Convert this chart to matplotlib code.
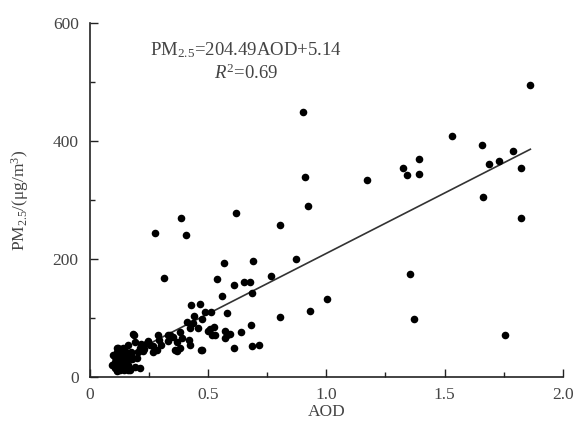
import numpy as np
import matplotlib
matplotlib.use("Agg")
import matplotlib.pyplot as plt

plt.rcParams['font.family'] = ['Liberation Serif', 'DejaVu Serif']
plt.rcParams['mathtext.fontset'] = 'custom'
plt.rcParams['mathtext.rm'] = 'Liberation Serif'
plt.rcParams['mathtext.it'] = 'Liberation Serif:italic'

# AOD vs PM2.5
aod = [1.863, 1.532, 1.659, 1.790, 1.688, 1.729, 1.824, 1.662, 1.822, 1.755,
       0.901, 0.909, 1.170, 1.325, 1.343, 1.392, 1.390, 0.922, 0.803, 0.871,
       1.353, 1.001, 0.932, 0.803, 1.369, 0.617, 0.568, 0.692, 0.536, 0.610,
       0.653, 0.676, 0.765, 0.686, 0.557, 0.488, 0.512, 0.582, 0.681, 0.526,
       0.500, 0.515, 0.571, 0.592, 0.571, 0.641, 0.609, 0.686, 0.715, 0.475,
       0.385, 0.275, 0.407, 0.313, 0.428, 0.465, 0.412, 0.437, 0.474, 0.457,
       0.423, 0.507, 0.529, 0.578, 0.186, 0.331, 0.341, 0.293, 0.367, 0.388,
       0.381, 0.362, 0.420, 0.423, 0.240, 0.282, 0.190, 0.211, 0.225, 0.176,
       0.162, 0.113, 0.254, 0.268, 0.218, 0.247, 0.289, 0.331, 0.381, 0.367,
       0.472, 0.204, 0.127, 0.106, 0.092, 0.106, 0.162, 0.190, 0.141, 0.162,
       0.118, 0.097, 0.127, 0.169, 0.211, 0.155, 0.183, 0.110, 0.120, 0.135,
       0.145, 0.130, 0.150, 0.115, 0.125, 0.140, 0.175, 0.160, 0.105, 0.200,
       0.230, 0.145, 0.135, 0.180, 0.115, 0.150, 0.265, 0.350, 0.440, 0.300]
pm25 = [495, 408, 393, 383, 361, 366, 355, 306, 270, 71,
        450, 339, 334, 355, 342, 370, 344, 290, 257, 200,
        175, 133, 112, 102, 98, 278, 194, 197, 167, 156,
        162, 162, 172, 142, 138, 111, 111, 108, 89, 85,
        78, 72, 78, 73, 66, 76, 50, 53, 55, 46,
        269, 245, 240, 168, 122, 124, 94, 91, 98, 83,
        84, 82, 71, 71, 72, 71, 71, 63, 60, 66,
        49, 46, 63, 54, 58, 46, 60, 49, 45, 43,
        54, 49, 54, 43, 57, 61, 71, 62, 77, 45,
        46, 43, 46, 34, 20, 15, 12, 17, 26, 34,
        49, 37, 12, 12, 15, 29, 73, 28, 22, 35,
        40, 18, 24, 42, 30, 50, 38, 20, 26, 32,
        48, 12, 20, 30, 10, 45, 52, 68, 104, 55]

slope, intercept = 204.49, 5.14

fig = plt.figure(figsize=(5.76, 4.34), dpi=100)
ax = fig.add_axes([0.156, 0.131, 0.821, 0.816])

ax.scatter(aod, pm25, s=30, color='black', zorder=3, linewidths=0)
xl = np.array([min(aod), max(aod)])
ax.plot(xl, slope * xl + intercept, color='#333333', lw=1.2, zorder=2)

ax.set_xlim(0, 2.0)
ax.set_ylim(0, 600)
ax.set_xticks([0, 0.5, 1.0, 1.5, 2.0])
ax.set_xticklabels(['0', '0.5', '1.0', '1.5', '2.0'])
ax.set_xticks([0.25, 0.75, 1.25, 1.75], minor=True)
ax.set_yticks([0, 200, 400, 600])
ax.set_yticks([100, 300, 500], minor=True)
ax.spines['top'].set_visible(False)
ax.spines['right'].set_visible(False)
for s in ['left', 'bottom']:
    ax.spines[s].set_linewidth(1.2)
    ax.spines[s].set_color('#222222')
ax.tick_params(which='both', direction='in', colors='#222222', labelcolor='#444444',
               labelsize=12.5, width=1.0)
ax.tick_params(which='major', length=6)
ax.tick_params(which='minor', length=3.5)
ax.tick_params(axis='x', pad=7)
ax.tick_params(axis='y', pad=8)

ax.set_xlabel('AOD', fontsize=12.5, color='#444444', labelpad=1)
ax.set_ylabel(r'PM$_{2.5}$/($\mathrm{\mu}$g/m$^3$)', fontsize=12.5, color='#444444', labelpad=16)

ax.text(0.33, 0.923, r'PM$_{2.5}$=204.49AOD+5.14', transform=ax.transAxes,
        ha='center', va='center', fontsize=13.5, color='#444444')
ax.text(0.33, 0.858, r'$R^2$=0.69', transform=ax.transAxes,
        ha='center', va='center', fontsize=13.5, color='#444444')

fig.savefig('out.png', dpi=100)
